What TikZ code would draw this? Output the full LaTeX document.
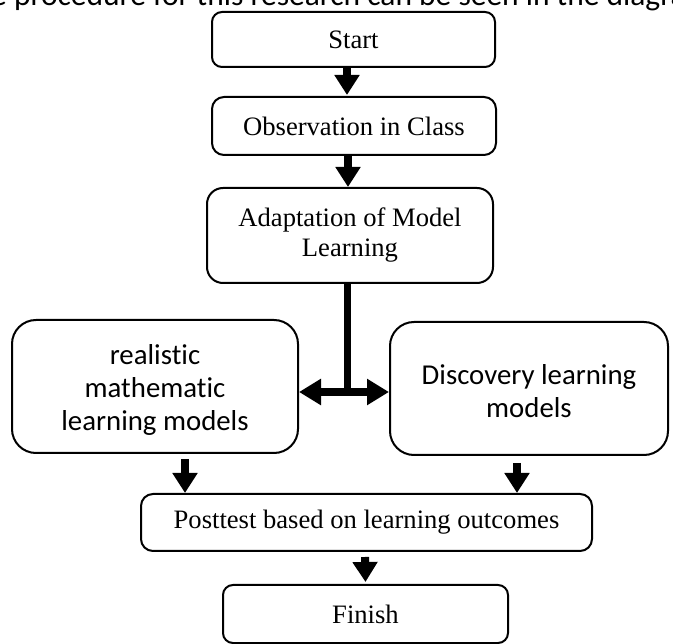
\documentclass[tikz,border=0pt]{standalone}
\usepackage{fontspec}
\setmainfont{Liberation Serif}
\newfontfamily\boxsans[Ligatures=NoCommon]{Carlito}
\usetikzlibrary{arrows.meta}
\begin{document}
\begin{tikzpicture}[x=1pt,y=-1pt,
  box/.style={draw, line width=2pt, rounded corners=#1, inner sep=0pt, align=center,
    font=\fontsize{26.6}{30}\selectfont},
  sbox/.style={draw, line width=2pt, rounded corners=24pt, inner sep=0pt},
  stext/.style={inner sep=0pt, align=center, font=\boxsans\fontsize{28.8}{33}\selectfont},
  arr/.style={line width=8pt, -{Triangle[width=24pt,length=20pt]}},
  darr/.style={line width=8pt, {Triangle[width=25pt,length=22pt]}-{Triangle[width=25pt,length=22pt]}},
  stem/.style={line width=7pt}
]
\useasboundingbox (0,0) rectangle (673,644);
\clip (0,0) rectangle (673,644);
\fill[white] (0,0) rectangle (673,644);

\node[anchor=base west, inner sep=0pt, font=\boxsans\fontsize{31.5}{36}\selectfont] (intro) at (-9,6)
  {e procedure for this research can be seen in the diagram};

\node[box=10pt, minimum width=283pt, minimum height=55pt] (start) at (353.5,39.5) {Start};
\node[box=12pt, minimum width=284pt, minimum height=58pt] (obs) at (354,126) {Observation in Class};
\node[box=16pt, minimum width=286pt, minimum height=95pt] (adapt) at (350,235.5) {Adaptation of Model\\Learning};
\node[sbox, minimum width=286pt, minimum height=133pt] (lbox) at (155,386.5) {};
\node[stext] (ltext) at (155,390) {realistic\\mathematic\\learning models};
\node[sbox, minimum width=278pt, minimum height=133pt] (rbox) at (529,388.5) {};
\node[stext] (rtext) at (529,391) {Discovery learning\\models};
\node[box=12pt, minimum width=451pt, minimum height=57pt] (post) at (366.5,522.5) {Posttest based on learning outcomes};
\node[box=10pt, minimum width=285pt, minimum height=58pt] (fin) at (365.5,614) {Finish};

\coordinate (j) at (347,392);

\draw[arr] ([xshift=-6.5pt]start.south) -- ([xshift=-7pt,yshift=1pt]obs.north);
\draw[arr] ([xshift=-6pt]obs.south) -- ([xshift=-2pt]adapt.north);
\draw[stem] ([xshift=-3pt]adapt.south) -- (j);
\draw[darr] (lbox.east |- j) -- (rbox.west |- j);
\draw[arr] ([xshift=30pt,yshift=-5pt]lbox.south) -- ([xshift=30pt]lbox.south |- post.north);
\draw[arr] ([xshift=-12pt,yshift=-7pt]rbox.south) -- ([xshift=-12pt]rbox.south |- post.north);
\draw[arr] ([xshift=-1.5pt,yshift=-5pt]post.south) -- ([yshift=2pt]fin.north);
\end{tikzpicture}
\end{document}
